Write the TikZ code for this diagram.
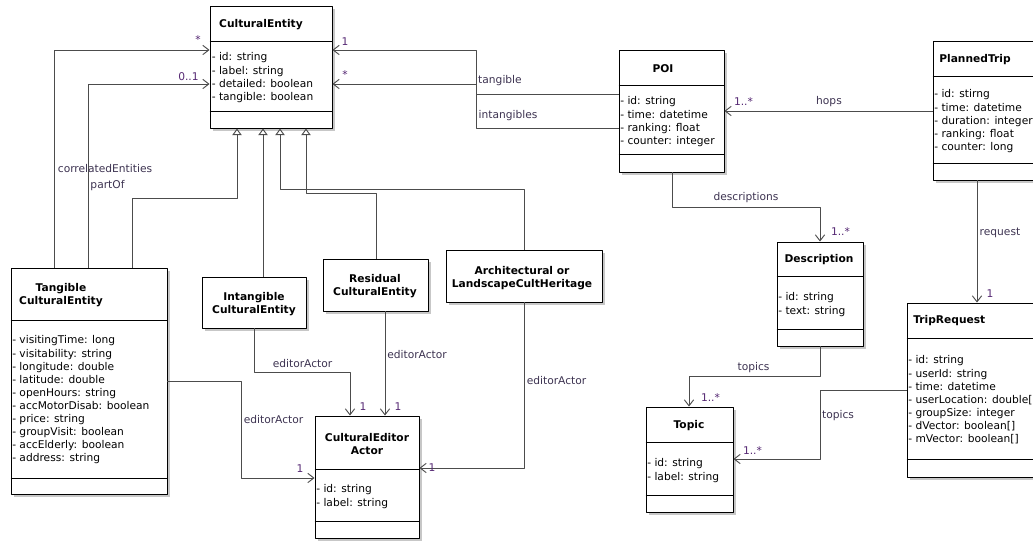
\documentclass[tikz,border=0pt]{standalone}
\usepackage{fontspec}
\setmainfont{DejaVu Sans}
\usetikzlibrary{arrows.meta,fit,shadows}
\definecolor{labtext}{RGB}{60,50,80}
\definecolor{multtext}{RGB}{85,40,115}
\newcommand{\umlfont}{\fontsize{8}{9.8}\selectfont}
\newcommand{\umlattrs}[4]{\foreach \txt [count=\k] in {#4} \node[attr] (#1-\k) at (#2,{#3+13.1*(\k-1)}) {- \txt};}
\begin{document}
\begin{tikzpicture}[x=0.75pt, y=-0.75pt, font=\umlfont, line join=round,
	classbox/.style={draw, fill=white, inner sep=0pt, line width=0.7pt, drop shadow={shadow xshift=2.2pt, shadow yshift=-2.2pt, fill=black!22, opacity=1}},
	clstitle/.style={font=\umlfont\bfseries, align=center, inner sep=0pt},
	attr/.style={anchor=base west, inner sep=0pt},
	lbl/.style={inner sep=0pt, text=labtext},
	mult/.style={inner sep=0pt, text=multtext},
	sepline/.style={line width=0.7pt},
	assoc/.style={draw=black!70, line width=0.7pt, -{Straight Barb[length=4.5pt,width=7pt]}},
	gen/.style={draw=black!70, line width=0.7pt, -{Triangle[open,length=5pt,width=7pt]}}]
\useasboundingbox (0,0) rectangle (1033,541);
\clip (0,0) rectangle (1033,541);
			\node[classbox, fit={(210,6) (332,128)}] (ce) {};
			\node[classbox, fit={(11,268) (167,494)}] (tce) {};
			\node[classbox, fit={(202,277) (306,328)}] (ice) {};
			\node[classbox, fit={(323,259) (428,311)}] (rce) {};
			\node[classbox, fit={(446,250) (602,302)}] (alch) {};
			\node[classbox, fit={(315,416) (419,538)}] (cea) {};
			\node[classbox, fit={(619,50) (724,172)}] (poi) {};
			\node[classbox, fit={(933,41) (1050,180)}] (pt) {};
			\node[classbox, fit={(777,242) (863,346)}] (desc) {};
			\node[classbox, fit={(646,407) (733,512)}] (topic) {};
			\node[classbox, fit={(907,303) (1050,477)}] (tr) {};
			\foreach \n/\a/\b in {ce/41/111, tce/320/478, cea/469/521, poi/85/154, pt/76/163, desc/276/329, topic/442/495, tr/338/459}
				\draw[sepline] (\n.west |- 0,\a) -- (\n.east |- 0,\a) (\n.west |- 0,\b) -- (\n.east |- 0,\b);
			\node[clstitle] (ce-t) at (261,24.5) {CulturalEntity};
			\node[clstitle] (tce-t) at (61,295) {Tangible\\CulturalEntity};
			\node[clstitle] (ice-t) at (254,304) {Intangible\\CulturalEntity};
			\node[clstitle] (rce-t) at (375,286.5) {Residual\\CulturalEntity};
			\node[clstitle] (alch-t) at (522,278) {Architectural or\\LandscapeCultHeritage};
			\node[clstitle] (cea-t) at (367,444) {CulturalEditor\\Actor};
			\node[clstitle] (poi-t) at (663,68.5) {POI};
			\node[clstitle, anchor=west] (pt-t) at (939,59.5) {PlannedTrip};
			\node[clstitle] (desc-t) at (819,259.5) {Description};
			\node[clstitle] (topic-t) at (689,425.5) {Topic};
			\node[clstitle, anchor=west] (tr-t) at (913,320.5) {TripRequest};
			\umlattrs{ce}{211.5}{61}{id: string, label: string, detailed: boolean, tangible: boolean}
			\umlattrs{tce}{12}{344}{visitingTime: long, visitability: string, longitude: double, latitude: double, openHours: string, accMotorDisab: boolean, price: string, groupVisit: boolean, accElderly: boolean, address: string}
			\umlattrs{cea}{316}{493}{id: string, label: string}
			\umlattrs{poi}{620}{105}{id: string, time: datetime, ranking: float, counter: integer}
			\umlattrs{pt}{934}{98}{id: stirng, time: datetime, duration: integer, ranking: float, counter: long}
			\umlattrs{desc}{778}{301}{id: string, text: string}
			\umlattrs{topic}{647}{467}{id: string, label: string}
			\umlattrs{tr}{908}{364}{id: string, userId: string, time: datetime, userLocation: double[], groupSize: integer, dVector: boolean[], mVector: boolean[]}
			\draw[assoc] (tce.north -| 54,0) |- (ce.west |- 0,50);
			\draw[assoc] (tce.north -| 88,0) |- (ce.west |- 0,84);
			\draw[gen] (tce.north -| 132,0) |- (237,198) -- (ce.south -| 237,0);
			\draw[gen] (ice.north -| 263,0) -- (ce.south -| 263,0);
			\draw[gen] (alch.north -| 524,0) |- (280,189) -- (ce.south -| 280,0);
			\draw[gen] (rce.north -| 376,0) |- (306,193) -- (ce.south -| 306,0);
			\draw[assoc] (ice.south -| 254,0) |- (350,372) -- (cea.north -| 350,0);
			\draw[assoc] (rce.south -| 385,0) -- (cea.north -| 385,0);
			\draw[assoc] (tce.east |- 0,381) -| (241,478) -- (cea.west |- 0,478);
			\draw[assoc] (alch.south -| 524,0) |- (cea.east |- 0,468);
			\draw[assoc] (poi.west |- 0,94) -| (476,50) -- (ce.east |- 0,50);
			\draw[assoc] (poi.west |- 0,128) -| (476,84) -- (ce.east |- 0,84);
			\draw[assoc] (pt.west |- 0,111) -- (poi.east |- 0,111);
			\draw[assoc] (poi.south -| 672,0) |- (820,207) -- (desc.north -| 820,0);
			\draw[assoc] (desc.south -| 820,0) |- (689,376) -- (topic.north -| 689,0);
			\draw[assoc] (tr.west |- 0,390) -| (820,459) -- (topic.east |- 0,459);
			\draw[assoc] (pt.south -| 977,0) -- (tr.north -| 977,0);
			\node[lbl] (l-corr) at (105,169) {correlatedEntities};
			\node[lbl] (l-part) at (107.5,186) {partOf};
			\node[mult] (m-corr) at (198,40) {*};
			\node[mult] (m-part) at (188.5,77) {0..1};
			\node[lbl] (l-ed1) at (302.5,364) {editorActor};
			\node[mult] (m-ed1) at (363,407) {1};
			\node[lbl] (l-ed2) at (417,355) {editorActor};
			\node[mult] (m-ed2) at (398,407) {1};
			\node[lbl] (l-ed3) at (273.5,420) {editorActor};
			\node[mult] (m-ed3) at (300,469) {1};
			\node[lbl] (l-ed4) at (556.5,381) {editorActor};
			\node[mult] (m-ed4) at (432,468) {1};
			\node[lbl] (l-tang) at (500,81) {tangible};
			\node[mult] (m-tang) at (345,42) {1};
			\node[lbl] (l-intang) at (508,116) {intangibles};
			\node[mult] (m-intang) at (345,75) {*};
			\node[lbl] (l-hops) at (829,102) {hops};
			\node[mult] (m-hops) at (743.5,102) {1..*};
			\node[lbl] (l-desc) at (746,198) {descriptions};
			\node[mult] (m-desc) at (840.5,232) {1..*};
			\node[lbl] (l-top1) at (753.5,368) {topics};
			\node[mult] (m-top1) at (710.5,398) {1..*};
			\node[lbl] (l-top2) at (838,416) {topics};
			\node[mult] (m-top2) at (752.5,451) {1..*};
			\node[lbl] (l-req) at (1000,233) {request};
			\node[mult] (m-req) at (990,294) {1};
		\end{tikzpicture}
\end{document}
